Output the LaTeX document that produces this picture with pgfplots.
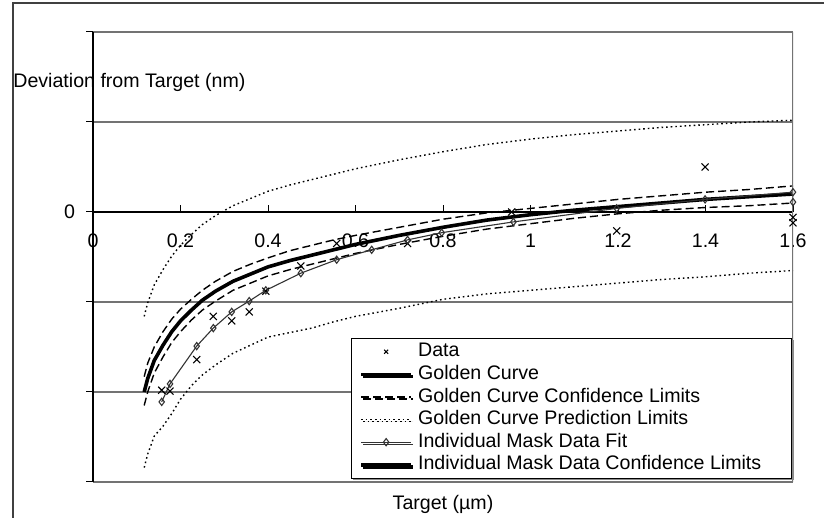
\documentclass[border=0pt]{standalone}
\usepackage{fontspec}
\setmainfont{Liberation Sans}
\usepackage{pgfplots}
\pgfplotsset{compat=1.18}
\usetikzlibrary{shadows}
\pgfplotsset{marklegend/.style={legend image code/.code={\draw[mark repeat=2,mark phase=2,##1,mark size=1.4pt] plot coordinates {(0pt,0pt) (12.5pt,0pt) (25pt,0pt)};}}}

\begin{document}
\begin{tikzpicture}[font=\fontsize{9.8}{11.8}\selectfont]
\path[use as bounding box] (0,0) rectangle (412pt,259pt);
\draw[black!75, line width=0.6pt] (6.5pt,0) -- (6.5pt,257.5pt) -- (412pt,257.5pt);
\begin{axis}[
  at={(46.5pt,18pt)}, anchor=south west,
  scale only axis, width=350pt, height=225pt,
  xmin=0, xmax=1.6, ymin=-3, ymax=2,
  axis x line=middle, axis y line=left,
  axis line style={-, black, line width=0.6pt},
  hide obscured x ticks=false, hide obscured y ticks=false,
  xtick={0,0.2,0.4,0.6,0.8,1,1.2,1.4,1.6},
  xticklabels={0,0.2,0.4,0.6,0.8,1,1.2,1.4,1.6},
  ytick={-3,-2,-1,0,1,2},
  yticklabels={,,,0,,},
  /pgf/number format/assume math mode=true,
  major tick length=3.5pt,
  xtick align=inside,
  ytick align=outside,
  tick style={black, line width=0.5pt},
  ymajorgrids, major grid style={black!55, line width=0.65pt},
  xticklabel style={anchor=base, yshift=-17.75pt},
  yticklabel style={anchor=east, xshift=-2pt},
  every axis x label/.style={at={(axis description cs:0.5,-0.061)}, anchor=base},
  every axis y label/.style={at={(axis description cs:-0.1143,0.877)}, anchor=base west, inner sep=0pt},
  xlabel={Target (µm)},
  ylabel={Deviation from Target (nm)},
  legend image code/.code={\draw[mark repeat=2,mark phase=2,#1] plot coordinates {(0pt,0pt) (12.5pt,0pt) (25pt,0pt)};},
  legend cell align=left,
  legend style={at={(axis description cs:0.999,0.0067)}, anchor=south east,
    draw=black, line width=0.5pt, fill=white,
    inner xsep=4pt, inner ysep=1.2pt, column sep=1pt, row sep=0pt,
    nodes={inner xsep=1.5pt, inner ysep=1pt, text height=7.2pt, text depth=2.1pt},
    general shadow={shadow xshift=1pt, shadow yshift=-1pt, fill=black!45}},
]
% Data
\addplot[only marks, mark=x, mark size=2.5pt, black, line width=0.55pt, marklegend]
coordinates {
(0.157,-1.98) (0.176,-1.99) (0.237,-1.64) (0.275,-1.16) (0.317,-1.21)
(0.357,-1.11) (0.395,-0.88) (0.475,-0.60) (0.557,-0.35) (0.719,-0.35)
(0.957,0.00) (1.197,-0.21) (1.399,0.50) (1.6,-0.06) (1.6,-0.12)
};
\addlegendentry{Data}
% Golden curve
\addplot[black, line width=1.8pt] coordinates {
(0.117,-2.00) (0.125,-1.85) (0.14,-1.65) (0.16,-1.48) (0.18,-1.33) (0.2,-1.21)
(0.225,-1.09) (0.25,-0.98) (0.28,-0.88) (0.32,-0.77) (0.36,-0.69) (0.4,-0.61)
(0.45,-0.54) (0.5,-0.48) (0.55,-0.42) (0.6,-0.36) (0.7,-0.26) (0.8,-0.17)
(0.9,-0.09) (1.0,-0.03) (1.1,0.02) (1.2,0.06) (1.3,0.10) (1.4,0.14) (1.5,0.17) (1.6,0.20)
};
\addlegendentry{Golden Curve}
% Confidence limits
\addplot[black, line width=0.7pt, dash pattern=on 4pt off 2pt] coordinates {
(0.117,-1.83) (0.125,-1.68) (0.14,-1.50) (0.16,-1.33) (0.18,-1.19) (0.2,-1.08)
(0.225,-0.97) (0.25,-0.87) (0.28,-0.77) (0.32,-0.66) (0.36,-0.58) (0.4,-0.51)
(0.45,-0.43) (0.5,-0.37) (0.55,-0.31) (0.6,-0.26) (0.7,-0.17) (0.8,-0.08)
(0.9,-0.01) (1.0,0.04) (1.1,0.09) (1.2,0.14) (1.3,0.18) (1.4,0.22) (1.5,0.25) (1.6,0.29)
};
\addlegendentry{Golden Curve Confidence Limits}
\addplot[black, line width=0.7pt, dash pattern=on 4pt off 2pt, forget plot] coordinates {
(0.117,-2.15) (0.125,-2.00) (0.14,-1.79) (0.16,-1.61) (0.18,-1.45) (0.2,-1.33)
(0.225,-1.20) (0.25,-1.09) (0.28,-0.99) (0.32,-0.87) (0.36,-0.79) (0.4,-0.71)
(0.45,-0.64) (0.5,-0.58) (0.55,-0.52) (0.6,-0.46) (0.7,-0.36) (0.8,-0.27)
(0.9,-0.19) (1.0,-0.13) (1.1,-0.07) (1.2,-0.02) (1.3,0.02) (1.4,0.05) (1.5,0.07) (1.6,0.10)
};
% Prediction limits
\addplot[black, line width=0.7pt, dash pattern=on 0.8pt off 1.5pt] coordinates {
(0.117,-1.16) (0.125,-1.01) (0.14,-0.81) (0.16,-0.64) (0.18,-0.49) (0.2,-0.37)
(0.225,-0.25) (0.25,-0.14) (0.28,-0.04) (0.32,0.07) (0.36,0.15) (0.4,0.23)
(0.45,0.30) (0.5,0.36) (0.55,0.42) (0.6,0.48) (0.7,0.58) (0.8,0.67)
(0.9,0.75) (1.0,0.81) (1.1,0.86) (1.2,0.90) (1.3,0.94) (1.4,0.97) (1.5,1.00) (1.6,1.02)
};
\addlegendentry{Golden Curve Prediction Limits}
\addplot[black, line width=0.7pt, dash pattern=on 0.8pt off 1.5pt, forget plot] coordinates {
(0.117,-2.84) (0.125,-2.69) (0.14,-2.49) (0.16,-2.38) (0.18,-2.24) (0.2,-2.08)
(0.225,-1.93) (0.25,-1.81) (0.28,-1.70) (0.32,-1.57) (0.36,-1.48) (0.4,-1.39)
(0.45,-1.34) (0.5,-1.29) (0.55,-1.22) (0.6,-1.16) (0.7,-1.07) (0.8,-0.97)
(0.9,-0.91) (1.0,-0.87) (1.1,-0.83) (1.2,-0.79) (1.3,-0.75) (1.4,-0.72) (1.5,-0.68) (1.6,-0.65)
};
% Individual mask data fit
\addplot[black!80, line width=0.55pt, mark=diamond, mark size=1.8pt, mark options={fill=white, solid}] coordinates {
(0.157,-2.11) (0.176,-1.91) (0.237,-1.49) (0.275,-1.29) (0.317,-1.11) (0.357,-0.99)
(0.395,-0.87) (0.475,-0.68) (0.557,-0.53) (0.637,-0.42) (0.719,-0.31) (0.797,-0.23)
(0.961,-0.11) (1.197,0.04) (1.399,0.14) (1.6,0.22) (1.6,0.11)
};
\addlegendentry{Individual Mask Data Fit}
\addlegendimage{black, line width=2pt}
\addlegendentry{Individual Mask Data Confidence Limits\hspace*{9.75pt}}
\draw[black!55, line width=0.6pt] (axis cs:1.6,-3) -- (axis cs:1.6,2);
\end{axis}
\end{tikzpicture}
\end{document}
